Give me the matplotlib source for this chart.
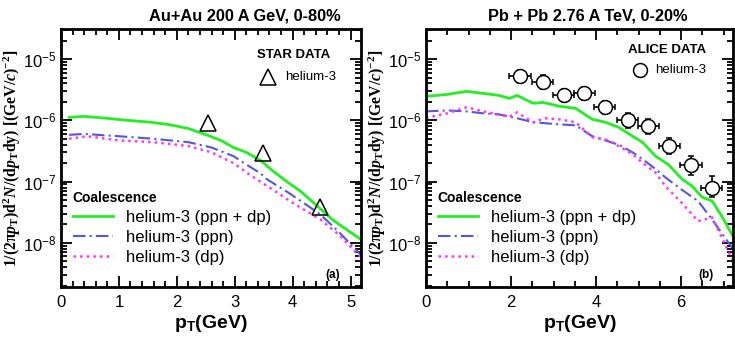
import numpy as np
import matplotlib
matplotlib.use("Agg")
import matplotlib.pyplot as plt
from matplotlib.ticker import MultipleLocator, LogLocator, NullFormatter
from matplotlib.lines import Line2D

# ---------------- data: panel (a) Au+Au 200 A GeV ----------------
a_pt_green = [0.14, 0.4, 0.7, 1.15, 1.5, 1.84, 2.19, 2.53, 2.76, 2.98, 3.2, 3.45, 3.67, 3.9, 4.14, 4.45, 4.71, 4.95, 5.2]
a_y_green = [1.12e-6, 1.16e-6, 1.1e-6, 1.0e-6, 0.94e-6, 0.86e-6, 0.74e-6, 0.57e-6, 0.47e-6, 0.36e-6, 0.3e-6, 0.22e-6, 1.46e-7, 1.0e-7, 6.9e-8, 3.8e-8, 2.3e-8, 1.6e-8, 1.1e-8]
a_pt_blue = [0.14, 0.4, 1.0, 1.6, 2.2, 2.6, 2.98, 3.2, 3.45, 3.55, 3.97, 4.48, 4.8, 5.2]
a_y_blue = [0.58e-6, 0.6e-6, 0.55e-6, 0.5e-6, 0.44e-6, 0.36e-6, 0.26e-6, 0.19e-6, 0.135e-6, 1.1e-7, 6.2e-8, 2.9e-8, 1.5e-8, 6.0e-9]
a_pt_pink = [0.14, 0.45, 1.0, 1.6, 2.2, 2.6, 2.98, 3.28, 3.6, 4.0, 4.48, 4.8, 5.2]
a_y_pink = [0.5e-6, 0.55e-6, 0.47e-6, 0.44e-6, 0.38e-6, 0.3e-6, 0.2e-6, 1.25e-7, 8.0e-8, 4.5e-8, 2.4e-8, 1.35e-8, 5.5e-9]
star_pt = [2.53, 3.48, 4.48]
star_y = [0.89e-6, 2.9e-7, 3.9e-8]

# ---------------- data: panel (b) Pb+Pb 2.76 A TeV ----------------
b_pt_green = [0.0, 0.5, 0.95, 1.35, 1.72, 1.96, 2.14, 2.52, 2.75, 3.13, 3.52, 3.91, 4.22, 4.53, 4.86, 5.09, 5.4, 5.7, 6.02, 6.26, 6.49, 6.73, 6.96, 7.2]
b_y_green = [2.46e-6, 2.65e-6, 2.97e-6, 2.75e-6, 2.55e-6, 2.28e-6, 2.55e-6, 1.9e-6, 1.96e-6, 1.7e-6, 1.57e-6, 1.04e-6, 0.93e-6, 0.77e-6, 0.55e-6, 0.44e-6, 0.26e-6, 0.19e-6, 0.11e-6, 8.4e-8, 5.6e-8, 4.8e-8, 2.7e-8, 1.35e-8]
b_pt_blue = [0.0, 0.5, 0.95, 1.35, 1.72, 2.1, 2.52, 3.13, 3.52, 3.91, 4.22, 4.53, 4.86, 5.1, 5.4, 5.63, 6.0, 6.4, 6.73, 7.0, 7.2]
b_y_blue = [1.4e-6, 1.45e-6, 1.4e-6, 1.3e-6, 1.25e-6, 1.1e-6, 0.93e-6, 0.86e-6, 0.83e-6, 0.55e-6, 0.47e-6, 0.4e-6, 0.3e-6, 0.23e-6, 0.16e-6, 1.17e-7, 7.5e-8, 4.8e-8, 2.4e-8, 1.3e-8, 8.3e-9]
b_pt_pink = [0.0, 0.5, 0.95, 1.35, 1.72, 1.96, 2.14, 2.52, 2.8, 3.13, 3.52, 3.91, 4.22, 4.53, 4.86, 5.1, 5.4, 5.63, 6.0, 6.4, 6.73, 7.0, 7.2]
b_y_pink = [1.1e-6, 1.3e-6, 1.63e-6, 1.4e-6, 1.25e-6, 1.15e-6, 1.35e-6, 0.93e-6, 1.08e-6, 1.04e-6, 0.93e-6, 0.53e-6, 0.49e-6, 0.38e-6, 0.28e-6, 0.2e-6, 0.14e-6, 8.4e-8, 4.6e-8, 2.25e-8, 2.6e-8, 1.05e-8, 5.4e-9]
alice_pt = [2.21, 2.74, 3.24, 3.72, 4.2, 4.74, 5.23, 5.72, 6.23, 6.72]
alice_y = [5.2e-6, 4.3e-6, 2.6e-6, 2.8e-6, 1.63e-6, 1.0e-6, 0.8e-6, 0.38e-6, 0.19e-6, 8.0e-8]
alice_ylo = [1.2e-6, 1.0e-6, 0.6e-6, 0.65e-6, 0.38e-6, 0.25e-6, 0.2e-6, 0.1e-6, 0.06e-6, 2.5e-8]
alice_yhi = [1.4e-6, 1.2e-6, 0.7e-6, 0.75e-6, 0.45e-6, 0.3e-6, 0.24e-6, 0.13e-6, 0.07e-6, 4.5e-8]
alice_xerr = [0.25, 0.25, 0.25, 0.25, 0.25, 0.25, 0.25, 0.25, 0.25, 0.25]

legend_labels = ["helium-3 (ppn + dp)", "helium-3 (ppn)", "helium-3 (dp)"]

GREEN = "#22ee22"
BLUE = "#5555dd"
PINK = "#ff33ff"

plt.rcParams['font.family'] = ['Liberation Sans', 'DejaVu Sans']
plt.rcParams['mathtext.fontset'] = 'custom'
plt.rcParams['mathtext.rm'] = 'Liberation Serif:bold'
plt.rcParams['mathtext.it'] = 'Liberation Serif:italic:bold'
plt.rcParams['mathtext.bf'] = 'Liberation Serif:bold'
plt.rcParams['mathtext.sf'] = 'Liberation Sans:bold'

fig = plt.figure(figsize=(7.35, 3.43), dpi=100)
axa = fig.add_axes([61/735, 1-287/343, 300/735, 258/343])
axb = fig.add_axes([426/735, 1-287/343, 307/735, 258/343])

ylab = (r'$\mathrm{1/(2\pi}\mathit{p}_{\mathrm{T}}\mathrm{)d^2}\mathit{N}\mathrm{/(d}\mathit{p}_{\mathrm{T}}'
        r'\mathrm{dy)\ [(GeV/}\mathit{c}\mathrm{)^{-2}]}$')

def style(ax, xmax, major, minor):
    ax.set_yscale('log')
    ax.set_ylim(1.9e-9, 3.1e-5)
    ax.set_xlim(0, xmax)
    ax.xaxis.set_major_locator(MultipleLocator(major))
    ax.xaxis.set_minor_locator(MultipleLocator(minor))
    ax.yaxis.set_major_locator(LogLocator(base=10, numticks=10))
    ax.yaxis.set_minor_locator(LogLocator(base=10, subs=np.arange(2, 10), numticks=10))
    ax.yaxis.set_minor_formatter(NullFormatter())
    ax.tick_params(which='both', direction='in', top=True, right=True, width=1.3)
    ax.tick_params(which='major', length=8, labelsize=12)
    ax.tick_params(which='minor', length=4)
    ax.tick_params(axis='x', which='major', pad=6)
    for s in ax.spines.values():
        s.set_linewidth(2)
    ax.set_xlabel(r'$\mathsf{p_T}$(GeV)', fontsize=14, fontweight='bold', labelpad=2)
    ax.set_ylabel(ylab, fontsize=11.3, labelpad=0)

def legend(ax):
    h = [Line2D([], [], color=GREEN, lw=2),
         Line2D([], [], color=BLUE, lw=1.5, dashes=[6, 2, 1, 2]),
         Line2D([], [], color=PINK, lw=1.8, ls=':')]
    lg = ax.legend(h, legend_labels, loc='lower left', bbox_to_anchor=(0.0, 0.04),
                   frameon=False, fontsize=12, title='Coalescence',
                   title_fontproperties={'weight': 'bold', 'size': 10},
                   handlelength=2.4, handletextpad=0.8, labelspacing=0.3, borderpad=0.2)
    lg._legend_box.align = 'left'

# panel (a)
style(axa, 5.18, 1, 0.2)
axa.plot(a_pt_green, a_y_green, color=GREEN, lw=2)
axa.plot(a_pt_blue, a_y_blue, color=BLUE, lw=1.5, dashes=[6, 2, 1, 2])
axa.plot(a_pt_pink, a_y_pink, color=PINK, lw=1.8, ls=':')
axa.plot(star_pt, star_y, ls='none', marker='^', ms=12, mfc='none', mec='black', mew=1.1)
fig.text(245/735, 1-16/343, 'Au+Au 200 A GeV, 0-80%', fontsize=11.8, fontweight='bold', ha='center', va='center')
axa.text(0.777, 0.899, 'STAR DATA', transform=axa.transAxes, ha='center', va='center', fontsize=9.5, fontweight='bold')
axa.plot([0.69], [0.814], transform=axa.transAxes, marker='^', ms=12, mfc='none', mec='black', mew=1.1, ls='none')
axa.text(0.747, 0.814, 'helium-3', transform=axa.transAxes, ha='left', va='center', fontsize=9.5)
axa.text(0.907, 0.025, '(a)', transform=axa.transAxes, ha='center', va='bottom', fontsize=8.5, fontweight='bold')
legend(axa)

# panel (b)
style(axb, 7.22, 2, 0.5)
axb.plot(b_pt_green, b_y_green, color=GREEN, lw=2)
axb.plot(b_pt_blue, b_y_blue, color=BLUE, lw=1.5, dashes=[6, 2, 1, 2])
axb.plot(b_pt_pink, b_y_pink, color=PINK, lw=1.8, ls=':')
axb.errorbar(alice_pt, alice_y, xerr=alice_xerr, yerr=[alice_ylo, alice_yhi], fmt='o', ms=10,
             mfc='white', mec='black', mew=1.1, ecolor='black', elinewidth=1.2, capsize=2.5, capthick=1.5, zorder=5)
fig.text(588/735, 1-16/343, 'Pb + Pb 2.76 A TeV, 0-20%', fontsize=11.8, fontweight='bold', ha='center', va='center')
axb.text(0.785, 0.919, 'ALICE DATA', transform=axb.transAxes, ha='center', va='center', fontsize=9.5, fontweight='bold')
axb.plot([0.697], [0.841], transform=axb.transAxes, marker='o', ms=10, mfc='white', mec='black', mew=1.1, ls='none')
axb.text(0.746, 0.841, 'helium-3', transform=axb.transAxes, ha='left', va='center', fontsize=9.5)
axb.text(0.912, 0.025, '(b)', transform=axb.transAxes, ha='center', va='bottom', fontsize=8.5, fontweight='bold')
legend(axb)

fig.savefig('out.png', dpi=100)
